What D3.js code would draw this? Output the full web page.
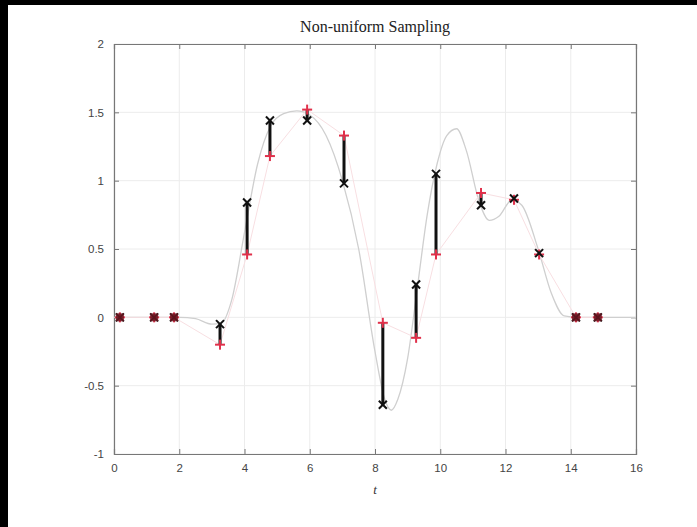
<!DOCTYPE html>
<html><head><meta charset="utf-8">
<script src="https://cdn.jsdelivr.net/npm/d3@7"></script>
<style>body{margin:0;background:#fff}svg{display:block}</style>
</head><body>
<script>
// Sample times
const sampleT = [0.18, 1.23, 1.84, 3.25, 4.08, 4.78, 5.92, 7.05, 8.24, 9.26, 9.87, 11.25, 12.26, 13.03, 14.16, 14.83];
// Red "+" values (measured)
const redV   = [0, 0, 0, -0.20, 0.46, 1.18, 1.52, 1.33, -0.04, -0.15, 0.46, 0.91, 0.86, 0.46, 0, 0];
// Black "x" values (true samples)
const blackV = [0, 0, 0, -0.05, 0.84, 1.44, 1.44, 0.98, -0.64, 0.24, 1.05, 0.82, 0.87, 0.47, 0, 0];
// Underlying continuous signal (gray)
const curveT = [0, 1, 2, 2.5, 3.0, 3.3, 3.6, 4.0, 4.4, 4.8, 5.2, 5.6, 6.0, 6.5, 7.0, 7.5, 8.0, 8.3, 8.5, 8.7, 9.0, 9.3, 9.6, 9.9, 10.2, 10.5, 10.8, 11.2, 11.5, 11.8, 12.2, 12.5, 13.0, 13.4, 13.8, 14.2, 15, 16];
const curveV = [0, 0, 0, -0.01, -0.05, -0.04, 0.12, 0.62, 1.12, 1.40, 1.49, 1.51, 1.48, 1.33, 1.0, 0.5, -0.25, -0.6, -0.68, -0.6, -0.3, 0.22, 0.75, 1.12, 1.33, 1.38, 1.22, 0.84, 0.71, 0.74, 0.86, 0.82, 0.50, 0.18, 0.01, 0, 0, 0];
const xTicks = [0, 2, 4, 6, 8, 10, 12, 14, 16];
const yTicks = [-1, -0.5, 0, 0.5, 1, 1.5, 2];

const W = 697, H = 527;
const svg = d3.select("body").append("svg").attr("width", W).attr("height", H);
svg.append("rect").attr("width", W).attr("height", H).attr("fill", "#fff");
// black border at top and left
svg.append("rect").attr("x", 0).attr("y", 0).attr("width", W).attr("height", 5).attr("fill", "#000");
svg.append("rect").attr("x", 0).attr("y", 0).attr("width", 8).attr("height", H).attr("fill", "#000");

const L = 114, R = 636, T = 44, B = 454;
const x = d3.scaleLinear().domain([0, 16]).range([L, R]);
const y = d3.scaleLinear().domain([-1, 2]).range([B, T]);

// grid
const g = svg.append("g");
g.selectAll(".gx").data(xTicks).enter().append("line")
  .attr("x1", d => x(d)).attr("x2", d => x(d)).attr("y1", T).attr("y2", B)
  .attr("stroke", "#ececec").attr("stroke-width", 1);
g.selectAll(".gy").data(yTicks).enter().append("line")
  .attr("y1", d => y(d)).attr("y2", d => y(d)).attr("x1", L).attr("x2", R)
  .attr("stroke", "#ececec").attr("stroke-width", 1);

// axes
const axCol = "#777";
const xb = svg.append("g").attr("transform", `translate(0,${B})`).call(d3.axisBottom(x).tickValues(xTicks).tickSize(-5).tickPadding(10).tickFormat(d3.format("d")));
const xt = svg.append("g").attr("transform", `translate(0,${T})`).call(d3.axisTop(x).tickValues(xTicks).tickSize(-5).tickFormat(""));
const yl = svg.append("g").attr("transform", `translate(${L},0)`).call(d3.axisLeft(y).tickValues(yTicks).tickSize(-5).tickPadding(10).tickFormat(d => String(d)));
const yr = svg.append("g").attr("transform", `translate(${R},0)`).call(d3.axisRight(y).tickValues(yTicks).tickSize(-5).tickFormat(""));
[xb, xt, yl, yr].forEach(a => {
  a.selectAll("path").attr("stroke", axCol).attr("stroke-width", 1.2);
  a.selectAll("line").attr("stroke", axCol);
  a.selectAll("text").attr("fill", "#444").style("font-family", "Liberation Sans, Arial, sans-serif").style("font-size", "11.5px");
});

// gray signal curve
const line = d3.line().x((d, i) => x(curveT[i])).y(d => y(d)).curve(d3.curveMonotoneX);
svg.append("path").datum(curveV).attr("d", line).attr("fill", "none")
  .attr("stroke", "#cfcfcf").attr("stroke-width", 1.3);

// faint pink line connecting red samples
const lineR = d3.line().x((d, i) => x(sampleT[i])).y(d => y(d));
svg.append("path").datum(redV).attr("d", lineR).attr("fill", "none")
  .attr("stroke", "#f8dfe2").attr("stroke-width", 1);

const idx = d3.range(sampleT.length);
// error bars
svg.selectAll(".eb").data(idx).enter().append("line")
  .attr("x1", i => x(sampleT[i])).attr("x2", i => x(sampleT[i]))
  .attr("y1", i => y(redV[i])).attr("y2", i => y(blackV[i]))
  .attr("stroke", "#111").attr("stroke-width", 3);

// red + markers
const s = 5;
const red = svg.append("g").attr("stroke", "#e0304a").attr("stroke-width", 2);
idx.forEach(i => {
  const cx = x(sampleT[i]), cy = y(redV[i]);
  red.append("line").attr("x1", cx - s).attr("x2", cx + s).attr("y1", cy).attr("y2", cy);
  red.append("line").attr("x1", cx).attr("x2", cx).attr("y1", cy - s).attr("y2", cy + s);
});
// black x markers
const k = 4;
const blk = svg.append("g").attr("stroke", "#111").attr("stroke-width", 2);
idx.forEach(i => {
  const cx = x(sampleT[i]), cy = y(blackV[i]);
  blk.append("line").attr("x1", cx - k).attr("x2", cx + k).attr("y1", cy - k).attr("y2", cy + k);
  blk.append("line").attr("x1", cx - k).attr("x2", cx + k).attr("y1", cy + k).attr("y2", cy - k);
});
// dark fill where both coincide at zero
svg.selectAll(".zm").data(idx.filter(i => redV[i] === 0 && blackV[i] === 0)).enter().append("rect")
  .attr("x", i => x(sampleT[i]) - 4).attr("y", i => y(0) - 4).attr("width", 8).attr("height", 8)
  .attr("fill", "#6a1520").attr("opacity", 0.85);

// title and label
svg.append("text").attr("x", (L + R) / 2).attr("y", 32).attr("text-anchor", "middle")
  .style("font-family", "Liberation Serif, DejaVu Serif, serif").style("font-size", "16px").attr("fill", "#222")
  .text("Non-uniform Sampling");
svg.append("text").attr("x", (L + R) / 2).attr("y", 494).attr("text-anchor", "middle")
  .style("font-family", "Liberation Serif, serif").style("font-style", "italic").style("font-size", "13px").attr("fill", "#333")
  .text("t");
</script>
</body></html>
